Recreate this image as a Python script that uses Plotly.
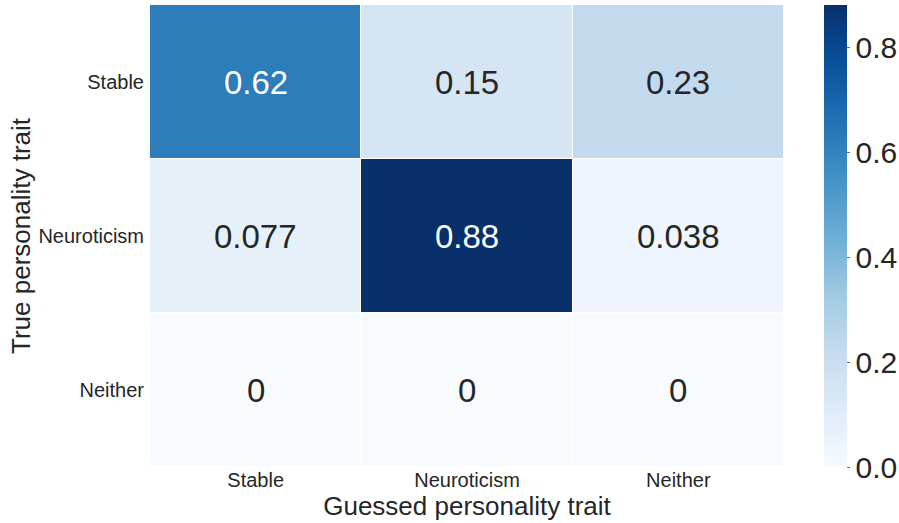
import plotly.graph_objects as go

# Confusion matrix of guessed vs. true personality trait (row-normalised)
guessed_labels = ["Stable", "Neuroticism", "Neither"]
true_labels = ["Stable", "Neuroticism", "Neither"]
row_stable = [0.62, 0.15, 0.23]
row_neuroticism = [0.077, 0.88, 0.038]
row_neither = [0, 0, 0]
cell_text_stable = ["0.62", "0.15", "0.23"]
cell_text_neuroticism = ["0.077", "0.88", "0.038"]
cell_text_neither = ["0", "0", "0"]

z = [row_stable, row_neuroticism, row_neither]
cell_text = [cell_text_stable, cell_text_neuroticism, cell_text_neither]
zmax = max(max(r) for r in z)

# matplotlib-style "Blues" sequential scale
blues = ["#f7fbff", "#deebf7", "#c6dbef", "#9ecae1", "#6baed6",
         "#4292c6", "#2171b5", "#08519c", "#08306b"]
colorscale = [[i / (len(blues) - 1), c] for i, c in enumerate(blues)]

FONT = "Liberation Sans, Arial, sans-serif"

fig = go.Figure(go.Heatmap(
    z=z, x=guessed_labels, y=true_labels,
    zmin=0, zmax=zmax, colorscale=colorscale,
    xgap=1, ygap=1, hoverinfo="skip",
    colorbar=dict(
        x=1.063, xanchor="left", xpad=0,
        y=0.5, yanchor="middle", len=1, lenmode="fraction", ypad=0,
        thickness=23, outlinewidth=0,
        tickmode="array", tickvals=[0, 0.2, 0.4, 0.6, 0.8],
        ticktext=["0.0", "0.2", "0.4", "0.6", "0.8"],
        ticks="outside", ticklen=3, tickcolor="#666666", tickwidth=1,
        tickfont=dict(family=FONT, size=30, color="#262626"),
    ),
))

annotations = []
for i, ylab in enumerate(true_labels):
    for j, xlab in enumerate(guessed_labels):
        v = z[i][j]
        color = "#ffffff" if v / zmax > 0.6 else "#262626"
        annotations.append(dict(
            x=xlab, y=ylab, text=cell_text[i][j], showarrow=False,
            font=dict(family=FONT, size=33, color=color),
        ))

fig.update_layout(
    width=899, height=523,
    margin=dict(l=150, r=115, t=5, b=56, autoexpand=False),
    paper_bgcolor="white", plot_bgcolor="white",
    annotations=annotations,
    font=dict(family=FONT, color="#262626"),
)
fig.update_xaxes(
    showgrid=False, zeroline=False, showline=False,
    ticks="", ticklabelstandoff=-1,
    tickfont=dict(family=FONT, size=20, color="#262626"),
    title=dict(text="Guessed personality trait", standoff=2,
               font=dict(family=FONT, size=26, color="#262626")),
)
fig.update_yaxes(
    autorange="reversed",
    showgrid=False, zeroline=False, showline=False,
    ticks="", ticklabelstandoff=5,
    tickfont=dict(family=FONT, size=20, color="#262626"),
    title=dict(text="True personality trait", standoff=0,
               font=dict(family=FONT, size=26, color="#262626")),
)

fig.write_html("out.html")
